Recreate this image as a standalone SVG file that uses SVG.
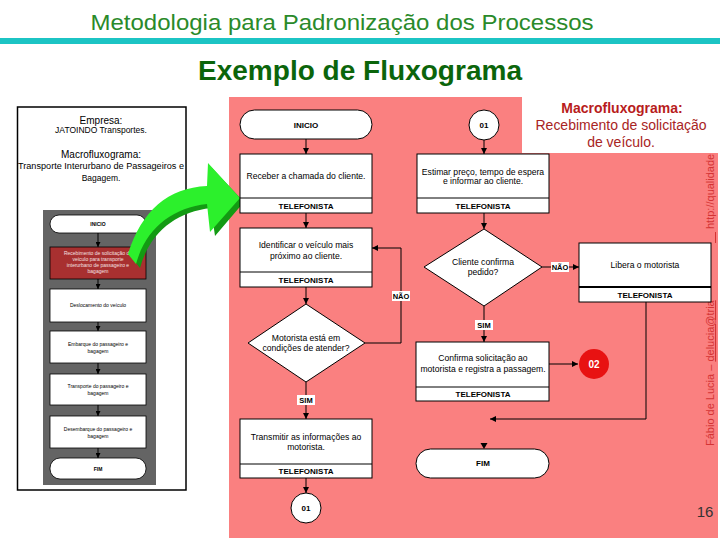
<svg xmlns="http://www.w3.org/2000/svg" width="720" height="540" viewBox="0 0 720 540">
<style>
text{font-family:"Liberation Sans",Arial,sans-serif}
.box{fill:#fff;stroke:#000;stroke-width:1}
.ln{fill:none;stroke:#000;stroke-width:1}
.t{font-size:8.6px;fill:#000;text-anchor:middle}
.b{font-size:8px;font-weight:bold;fill:#000;text-anchor:middle}
.lbl{font-size:7.5px;font-weight:bold;fill:#000;text-anchor:middle}
.lb{fill:#fff}
.s{font-size:5px;fill:#000;text-anchor:middle}
.sw{font-size:5px;fill:#f4e0e0;text-anchor:middle}
.sbox{fill:#fff;stroke:#000;stroke-width:0.8}
</style>
<defs>
<marker id="ah" viewBox="0 0 10 10" refX="10" refY="5" markerWidth="6" markerHeight="6" orient="auto" markerUnits="userSpaceOnUse">
<path d="M0,0 L10,5 L0,10 z" fill="#000"/>
</marker>
<marker id="ahs" viewBox="0 0 10 10" refX="10" refY="5" markerWidth="5" markerHeight="5" orient="auto" markerUnits="userSpaceOnUse">
<path d="M0,0 L10,5 L0,10 z" fill="#000"/>
</marker>
</defs>
<rect width="720" height="540" fill="#fff"/>
<!-- header -->
<text x="342" y="30" font-size="22" fill="#2a8a2a" text-anchor="middle" textLength="503" lengthAdjust="spacingAndGlyphs">Metodologia para Padronização dos Processos</text>
<rect x="0" y="38" width="720" height="6" fill="#1cc4c4"/>
<text x="360" y="80" font-size="27" font-weight="bold" fill="#0b650b" text-anchor="middle" textLength="324" lengthAdjust="spacingAndGlyphs">Exemplo de Fluxograma</text>

<!-- pink panel -->
<rect x="229" y="97" width="489" height="441" fill="#fa8080"/>
<!-- vertical credit text -->
<text transform="translate(714,446) rotate(-90)" font-size="11" fill="#d43434">Fábio de Lucia – <tspan text-decoration="underline">delucia@tria</tspan></text>
<line x1="715.5" y1="243" x2="715.5" y2="232" stroke="#d43434" stroke-width="1"/>
<text transform="translate(714,229) rotate(-90)" font-size="11" fill="#d43434">http://qualidade.tria</text>
<!-- white macro title area -->
<rect x="522" y="97" width="198" height="56" fill="#fff"/>
<text x="622" y="113" font-size="14" font-weight="bold" fill="#b81c1c" text-anchor="middle">Macrofluxograma:</text>
<text x="621" y="130" font-size="14" fill="#a82424" text-anchor="middle" textLength="171" lengthAdjust="spacing">Recebimento de solicitação</text>
<text x="621" y="147" font-size="14" fill="#a82424" text-anchor="middle">de veículo.</text>

<!-- left panel -->
<g id="left-panel">
<rect x="17.5" y="107" width="168.5" height="383" fill="#fff" stroke="#000" stroke-width="1.5"/>
<text x="101" y="124" font-size="10" text-anchor="middle" fill="#000">Empresa:</text>
<text x="101" y="133" font-size="8.5" text-anchor="middle" fill="#000">JATOINDO Transportes.</text>
<text x="101" y="158" font-size="10" text-anchor="middle" fill="#000">Macrofluxograma:</text>
<text x="101" y="169" font-size="8.5" text-anchor="middle" fill="#000" textLength="166" lengthAdjust="spacingAndGlyphs">Transporte Interurbano de Passageiros e</text>
<text x="101" y="181" font-size="8.5" text-anchor="middle" fill="#000">Bagagem.</text>
<rect x="43" y="210" width="113" height="275" fill="#646464"/>
<g class="ln">
<line x1="98" y1="233" x2="98" y2="247" marker-end="url(#ahs)"/>
<line x1="98" y1="279" x2="98" y2="289" marker-end="url(#ahs)"/>
<line x1="98" y1="322" x2="98" y2="331" marker-end="url(#ahs)"/>
<line x1="98" y1="363" x2="98" y2="374" marker-end="url(#ahs)"/>
<line x1="98" y1="405" x2="98" y2="416" marker-end="url(#ahs)"/>
<line x1="98" y1="448" x2="98" y2="458" marker-end="url(#ahs)"/>
</g>
<rect class="sbox" x="50" y="215" width="96" height="18" rx="9"/>
<text class="s" x="98" y="226" font-weight="bold">INICIO</text>
<rect x="50" y="247" width="96" height="32" fill="#a83030" stroke="#000" stroke-width="0.8"/>
<text class="sw" x="98" y="255">Recebimento de solicitação do</text>
<text class="sw" x="98" y="261">veículo para transporte</text>
<text class="sw" x="98" y="267">interurbano de passageiro e</text>
<text class="sw" x="98" y="273">bagagem</text>
<rect class="sbox" x="50" y="289" width="96" height="33"/>
<text class="s" x="98" y="307">Deslocamento do veículo</text>
<rect class="sbox" x="50" y="331" width="96" height="32"/>
<text class="s" x="98" y="346">Embarque do passageiro e</text>
<text class="s" x="98" y="353">bagagem</text>
<rect class="sbox" x="50" y="374" width="96" height="31"/>
<text class="s" x="98" y="388">Transporte do passageiro e</text>
<text class="s" x="98" y="395">bagagem</text>
<rect class="sbox" x="50" y="416" width="96" height="32"/>
<text class="s" x="98" y="431">Desembarque do passageiro e</text>
<text class="s" x="98" y="438">bagagem</text>
<rect class="sbox" x="50" y="458" width="96" height="21" rx="10"/>
<text class="s" x="98" y="471" font-weight="bold">FIM</text>
</g>

<!-- green arrow -->
<g id="green-arrow">
<path d="M140,268 C150,232 176,212 211,208 L215,236 L244,202 L212,168 L211,190 C172,192 146,214 132,258 Z" fill="#139a13"/>
<path d="M136,264 C146,228 172,208 207,204 L210,232 L240,198 L208,163 L207,186 C168,188 142,210 128,254 Z" fill="#2cf02c"/>
</g>

<!-- connectors -->
<g id="connectors" class="ln">
<line x1="306" y1="139" x2="306" y2="154" marker-end="url(#ah)"/>
<line x1="484" y1="140" x2="484" y2="154" marker-end="url(#ah)"/>
<line x1="306" y1="213" x2="306" y2="228" marker-end="url(#ah)"/>
<line x1="484" y1="213" x2="484" y2="229" marker-end="url(#ah)"/>
<line x1="306" y1="287" x2="306" y2="304" marker-end="url(#ah)"/>
<polyline points="365,343 401,343 401,248 372,248" marker-end="url(#ah)"/>
<line x1="306" y1="382" x2="306" y2="419" marker-end="url(#ah)"/>
<line x1="306" y1="478" x2="306" y2="493" marker-end="url(#ah)"/>
<line x1="542" y1="267" x2="579" y2="267" marker-end="url(#ah)"/>
<line x1="484" y1="306" x2="484" y2="342" marker-end="url(#ah)"/>
<line x1="549" y1="364" x2="578" y2="364" marker-end="url(#ah)"/>
<polyline points="646,302 646,419 490,419" marker-end="url(#ah)"/>
<path d="M480.5,443 L487.5,443 L484,449 z" fill="#000" stroke="none"/>
</g>
<!-- connector labels -->
<g id="labels">
<rect class="lb" x="392" y="291" width="18" height="10"/>
<text class="lbl" x="401" y="299">NÃO</text>
<rect class="lb" x="297" y="395" width="18" height="10"/>
<text class="lbl" x="306" y="403">SIM</text>
<rect class="lb" x="551" y="262" width="18" height="10"/>
<text class="lbl" x="560" y="270">NÃO</text>
<rect class="lb" x="475" y="320" width="18" height="10"/>
<text class="lbl" x="484" y="328">SIM</text>
</g>

<!-- nodes -->
<g id="n-inicio">
<rect class="box" x="240" y="110" width="132" height="29" rx="14.5"/>
<text class="b" x="306" y="128">INICIO</text>
</g>
<g id="n-c01-top">
<circle class="box" cx="484" cy="125" r="15"/>
<text class="b" x="484" y="128">01</text>
</g>
<g id="n-receber">
<rect class="box" x="240" y="154" width="132" height="59"/>
<line class="ln" x1="240" y1="198" x2="372" y2="198"/>
<text class="t" x="306" y="179">Receber a chamada do cliente.</text>
<text class="b" x="306" y="208.5">TELEFONISTA</text>
</g>
<g id="n-estimar">
<rect class="box" x="417" y="154" width="132" height="59"/>
<line class="ln" x1="417" y1="198" x2="549" y2="198"/>
<text class="t" x="483" y="175">Estimar preço, tempo de espera</text>
<text class="t" x="483" y="184">e informar ao cliente.</text>
<text class="b" x="483" y="208.5">TELEFONISTA</text>
</g>
<g id="n-identificar">
<rect class="box" x="240" y="228" width="132" height="59"/>
<line class="ln" x1="240" y1="272" x2="372" y2="272"/>
<text class="t" x="306" y="248">Identificar o veículo mais</text>
<text class="t" x="306" y="259">próximo ao cliente.</text>
<text class="b" x="306" y="282.5">TELEFONISTA</text>
</g>
<g id="n-cliente-confirma">
<polygon class="box" points="484,229 542,267 484,306 424,267"/>
<text class="t" x="483" y="265">Cliente confirma</text>
<text class="t" x="483" y="275">pedido?</text>
</g>
<g id="n-libera">
<rect class="box" x="579" y="243" width="132" height="59"/>
<line x1="579" y1="287" x2="711" y2="287" stroke="#000" stroke-width="2"/>
<text class="t" x="645" y="268">Libera o motorista</text>
<text class="b" x="645" y="298">TELEFONISTA</text>
</g>
<g id="n-motorista">
<polygon class="box" points="306,304 365,343 306,382 248,343"/>
<text class="t" x="306" y="341">Motorista está em</text>
<text class="t" x="306" y="351">condições de atender?</text>
</g>
<g id="n-confirma">
<rect class="box" x="416" y="342" width="133" height="59"/>
<line class="ln" x1="416" y1="387" x2="549" y2="387"/>
<text class="t" x="483" y="361">Confirma solicitação ao</text>
<text class="t" x="483" y="372">motorista e registra a passagem.</text>
<text class="b" x="483" y="397">TELEFONISTA</text>
</g>
<g id="n-c02">
<circle cx="594" cy="364" r="15" fill="#e81212"/>
<text x="594" y="368" font-size="10" font-weight="bold" fill="#fff" text-anchor="middle">02</text>
</g>
<g id="n-transmitir">
<rect class="box" x="240" y="419" width="132" height="59"/>
<line class="ln" x1="240" y1="464" x2="372" y2="464"/>
<text class="t" x="306" y="440">Transmitir as informações ao</text>
<text class="t" x="306" y="450">motorista.</text>
<text class="b" x="306" y="474">TELEFONISTA</text>
</g>
<g id="n-fim">
<rect class="box" x="416" y="449" width="133" height="29" rx="14.5"/>
<text class="b" x="483" y="466">FIM</text>
</g>
<g id="n-c01-bottom">
<circle class="box" cx="306" cy="508" r="15"/>
<text class="b" x="306" y="511">01</text>
</g>
<text x="705" y="517" font-size="15" fill="#333" text-anchor="middle">16</text>
</svg>
